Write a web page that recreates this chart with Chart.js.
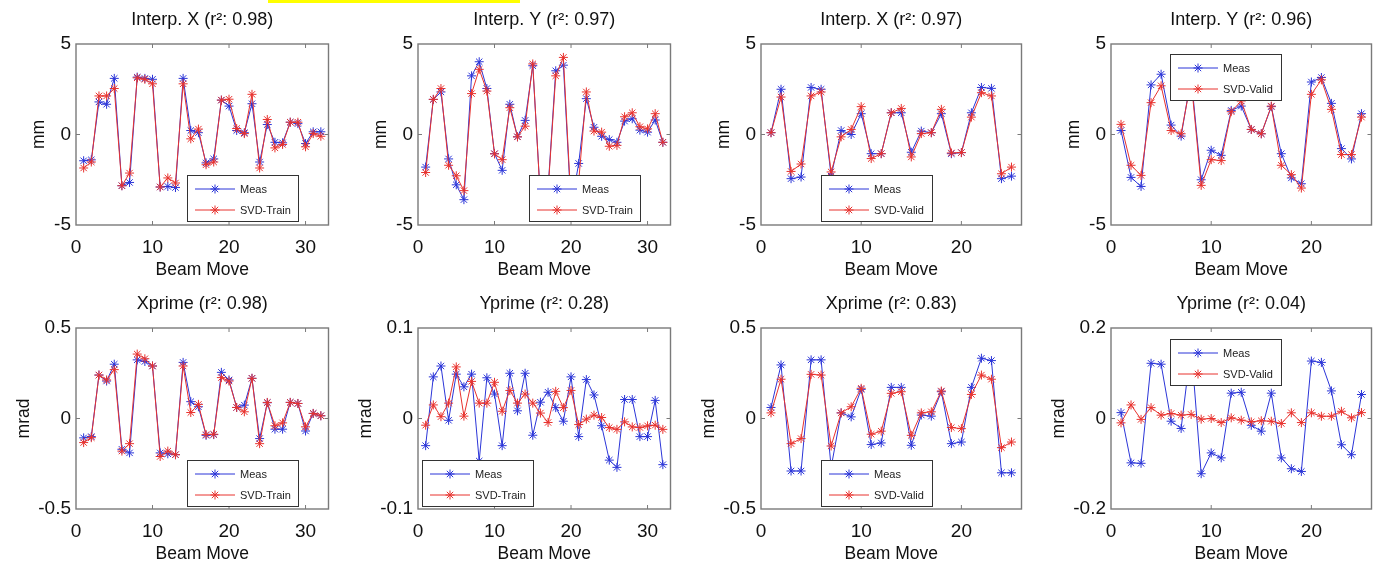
<!DOCTYPE html>
<html>
<head>
<meta charset="utf-8">
<title>Beam Move fits</title>
<script src="https://cdn.jsdelivr.net/npm/chart.js@4.4.0/dist/chart.umd.min.js"></script>
<style>
    body {
        margin: 0;
        width: 1378px;
        height: 564px;
        overflow: hidden;
        position: relative;
        background: #ffffff;
        font-family: 'Liberation Sans', Arial, sans-serif;
    }
    .marker-bar {
        position: absolute;
        left: 268px;
        top: 0;
        width: 252px;
        height: 3px;
        background: #ffff00;
    }
</style>
</head>
<body>
<div class="marker-bar"></div>
<script>
// Beam moves (x values)
const movesTrain = [1, 2, 3, 4, 5, 6, 7, 8, 9, 10, 11, 12, 13, 14, 15, 16, 17, 18, 19, 20, 21, 22, 23, 24, 25, 26, 27, 28, 29, 30, 31, 32];
const movesValid = [1, 2, 3, 4, 5, 6, 7, 8, 9, 10, 11, 12, 13, 14, 15, 16, 17, 18, 19, 20, 21, 22, 23, 24, 25];

// Interp. X, training set (mm)
const interpXTrainMeas = [-1.45, -1.4, 1.8, 1.67, 3.1, -2.83, -2.65, 3.17, 3.1, 3.05, -2.9, -2.87, -2.93, 3.1, 0.22, 0.1, -1.57, -1.35, 1.9, 1.57, 0.22, 0.1, 1.7, -1.52, 0.55, -0.43, -0.46, 0.68, 0.6, -0.5, 0.15, 0.15];
const interpXTrainSvd = [-1.85, -1.52, 2.13, 2.13, 2.54, -2.83, -2.13, 3.13, 3.05, 2.8, -2.9, -2.4, -2.68, 2.8, -0.24, 0.3, -1.67, -1.52, 1.9, 1.95, 0.33, 0.05, 2.22, -1.85, 0.83, -0.74, -0.55, 0.68, 0.68, -0.68, 0.05, -0.1];

// Interp. Y, training set (mm)
const interpYTrainMeas = [-1.8, 1.94, 2.35, -1.35, -2.78, -3.6, 3.24, 4.02, 2.54, -1.06, -1.98, 1.67, -0.13, 0.78, 3.8, -3.5, -3.0, 3.52, 3.83, -4.0, -1.6, 1.98, 0.4, -0.1, -0.28, -0.43, 0.74, 0.87, 0.24, 0.13, 0.8, -0.43];
const interpYTrainSvd = [-2.1, 1.94, 2.54, -1.7, -2.28, -3.1, 2.26, 3.6, 2.4, -1.07, -1.39, 1.48, -0.13, 0.46, 3.9, -3.6, -3.1, 3.24, 4.26, -3.8, -2.6, 2.35, 0.19, 0.13, -0.65, -0.6, 0.98, 1.2, 0.43, 0.31, 1.15, -0.43];

// Interp. X, validation set (mm)
const interpXValidMeas = [0.1, 2.5, -2.44, -2.35, 2.6, 2.5, -2.3, 0.22, 0.0, 1.15, -1.06, -1.06, 1.2, 1.2, -0.98, 0.19, 0.1, 1.15, -1.06, -1.0, 1.2, 2.6, 2.55, -2.44, -2.3];
const interpXValidSvd = [0.1, 2.07, -2.04, -1.63, 2.13, 2.35, -2.07, -0.13, 0.28, 1.54, -1.33, -1.06, 1.2, 1.44, -1.24, 0.05, 0.1, 1.39, -1.02, -1.0, 0.96, 2.31, 2.13, -2.17, -1.8];

// Interp. Y, validation set (mm)
const interpYValidMeas = [0.22, -2.37, -2.87, 2.74, 3.33, 0.52, -0.09, 3.2, -2.5, -0.87, -1.15, 1.33, 1.57, 0.28, 0.04, 1.54, -1.06, -2.4, -2.72, 2.9, 3.15, 1.72, -0.78, -1.35, 1.15];
const interpYValidSvd = [0.56, -1.7, -2.26, 1.76, 2.69, 0.22, 0.04, 3.0, -2.81, -1.39, -1.44, 1.26, 1.85, 0.28, 0.04, 1.57, -1.7, -2.22, -2.96, 2.22, 3.02, 1.39, -1.11, -1.11, 0.96];

// Xprime, training set (mrad)
const xprimeTrainMeas = [-0.107, -0.1, 0.24, 0.207, 0.3, -0.17, -0.19, 0.324, 0.315, 0.29, -0.19, -0.195, -0.2, 0.31, 0.093, 0.065, -0.093, -0.089, 0.255, 0.213, 0.061, 0.074, 0.222, -0.111, 0.087, -0.059, -0.059, 0.089, 0.083, -0.069, 0.028, 0.015];
const xprimeTrainSvd = [-0.133, -0.106, 0.24, 0.213, 0.27, -0.18, -0.139, 0.356, 0.33, 0.29, -0.21, -0.18, -0.2, 0.29, 0.033, 0.078, -0.089, -0.087, 0.226, 0.207, 0.061, 0.037, 0.222, -0.139, 0.089, -0.04, -0.024, 0.089, 0.083, -0.046, 0.028, 0.015];

// Yprime, training set (mrad)
const yprimeTrainMeas = [-0.03, 0.046, 0.058, -0.002, 0.049, 0.035, 0.049, -0.047, 0.045, 0.027, -0.03, 0.05, 0.0085, 0.05, -0.0185, 0.018, 0.029, 0.012, -0.003, 0.046, -0.02, 0.043, 0.026, -0.008, -0.046, -0.054, 0.021, 0.021, -0.02, -0.02, 0.02, -0.051];
const yprimeTrainSvd = [-0.0074, 0.015, 0.002, 0.017, 0.057, 0.0026, 0.041, 0.017, 0.017, 0.04, 0.008, 0.031, 0.017, 0.027, 0.017, 0.006, -0.0044, 0.03, 0.012, 0.031, -0.0067, -0.0007, 0.0037, 0.0011, -0.01, -0.012, -0.0037, -0.0093, -0.01, -0.0081, -0.0074, -0.012];

// Xprime, validation set (mrad)
const xprimeValidMeas = [0.061, 0.296, -0.29, -0.29, 0.324, 0.324, -0.27, 0.031, 0.009, 0.161, -0.144, -0.135, 0.172, 0.172, -0.148, 0.019, 0.013, 0.148, -0.139, -0.13, 0.172, 0.333, 0.32, -0.3, -0.3];
const xprimeValidSvd = [0.031, 0.217, -0.139, -0.111, 0.244, 0.24, -0.152, 0.031, 0.065, 0.167, -0.087, -0.07, 0.139, 0.148, -0.093, 0.031, 0.037, 0.152, -0.05, -0.056, 0.133, 0.24, 0.217, -0.161, -0.13];

// Yprime, validation set (mrad)
const yprimeValidMeas = [0.013, -0.098, -0.099, 0.122, 0.12, -0.006, -0.022, 0.16, -0.122, -0.076, -0.087, 0.056, 0.058, -0.015, -0.028, 0.056, -0.087, -0.111, -0.117, 0.127, 0.124, 0.061, -0.058, -0.08, 0.053];
const yprimeValidSvd = [-0.0096, 0.03, -0.002, 0.024, 0.0074, 0.011, 0.0074, 0.009, -0.0015, 0, -0.009, 0.0015, -0.0037, -0.0074, -0.005, -0.006, -0.011, 0.0126, -0.009, 0.0126, 0.005, 0.005, 0.016, 0.0015, 0.013];

// Titles, labels, axis ranges
const titles = ['Interp. X (r²: 0.98)', 'Interp. Y (r²: 0.97)', 'Interp. X (r²: 0.97)', 'Interp. Y (r²: 0.96)',
    'Xprime (r²: 0.98)', 'Yprime (r²: 0.28)', 'Xprime (r²: 0.83)', 'Yprime (r²: 0.04)'];
const yUnits = ['mm', 'mm', 'mm', 'mm', 'mrad', 'mrad', 'mrad', 'mrad'];
const yLimits = [5, 5, 5, 5, 0.5, 0.1, 0.5, 0.2];
const xMax = [33, 33, 26, 26, 33, 33, 26, 26];
const xTicks = [0, 10, 20, 30];

// Layout (pixels)
const plotLeft = [76, 418, 761, 1111];
const plotRight = [330, 672, 1023, 1373];
const plotTop = [44, 328];
const plotBottom = [225, 509];
const legendX = [111, 111, 60, 59, 111, 4, 60, 59];
const legendY = [131, 131, 131, 10, 132, 132, 132, 11];

const FONT = "'Liberation Sans', Arial, sans-serif";
const BLUE = '#2b35d8';
const RED = '#e8322e';
const FRAME = '#7a7a7a';

// Box around the axes, inward ticks, and the MATLAB-like legend
const axesBox = {
    id: 'axesBox',
    afterDraw(chart, args, opts) {
        const { ctx, chartArea: a } = chart;
        ctx.save();
        ctx.strokeStyle = FRAME;
        ctx.lineWidth = 1.4;
        ctx.strokeRect(a.left, a.top, a.right - a.left, a.bottom - a.top);

        ctx.lineWidth = 1;
        ctx.beginPath();
        chart.scales.x.ticks.forEach((t) => {
            const px = chart.scales.x.getPixelForValue(t.value);
            if (px <= a.left + 1 || px >= a.right - 1) return;
            ctx.moveTo(px, a.bottom); ctx.lineTo(px, a.bottom - 4);
            ctx.moveTo(px, a.top); ctx.lineTo(px, a.top + 4);
        });
        chart.scales.y.ticks.forEach((t) => {
            const py = chart.scales.y.getPixelForValue(t.value);
            if (py <= a.top + 1 || py >= a.bottom - 1) return;
            ctx.moveTo(a.left, py); ctx.lineTo(a.left + 4, py);
            ctx.moveTo(a.right, py); ctx.lineTo(a.right - 4, py);
        });
        ctx.stroke();

        // legend
        const lx = a.left + opts.x;
        const ly = a.top + opts.y;
        const lw = 112;
        const lh = 47;
        ctx.fillStyle = '#ffffff';
        ctx.fillRect(lx, ly, lw, lh);
        ctx.strokeStyle = '#333333';
        ctx.lineWidth = 1;
        ctx.strokeRect(lx + 0.5, ly + 0.5, lw - 1, lh - 1);

        ctx.font = '11px ' + FONT;
        ctx.textBaseline = 'middle';
        ctx.textAlign = 'left';
        chart.data.datasets.forEach((ds, k) => {
            const ry = ly + 14 + k * 21;
            ctx.strokeStyle = ds.borderColor;
            ctx.lineWidth = 1;
            ctx.beginPath();
            ctx.moveTo(lx + 8, ry);
            ctx.lineTo(lx + 48, ry);
            ctx.stroke();
            Chart.helpers.drawPoint(ctx, { pointStyle: 'star', radius: 4.5, rotation: 0, borderWidth: 1 }, lx + 28, ry);
            ctx.fillStyle = '#222222';
            ctx.fillText(ds.label, lx + 53, ry + 0.5);
        });
        ctx.restore();
    }
};

function makeSeries(label, moves, values, color, order) {
    return {
        label: label,
        data: moves.map((m, k) => ({ x: m, y: values[k] })),
        borderColor: color,
        backgroundColor: color,
        borderWidth: 1,
        pointStyle: 'star',
        pointRadius: 4.5,
        pointBorderWidth: 1,
        pointBorderColor: color,
        tension: 0,
        order: order
    };
}

function buildPanel(idx, moves, meas, svd, svdLabel) {
    const col = idx % 4;
    const row = Math.floor(idx / 4);
    const w = plotRight[col] - plotLeft[col] + 80;
    const h = plotBottom[row] - plotTop[row] + 44 + 57;

    const canvas = document.createElement('canvas');
    canvas.width = w;
    canvas.height = h;
    canvas.style.cssText = `position:absolute;left:${plotLeft[col] - 76}px;top:${plotTop[row] - 44}px;width:${w}px;height:${h}px`;
    document.body.appendChild(canvas);

    const lim = yLimits[idx];
    new Chart(canvas.getContext('2d'), {
        type: 'line',
        data: {
            datasets: [
                makeSeries('Meas', moves, meas, BLUE, 1),
                makeSeries(svdLabel, moves, svd, RED, 0)
            ]
        },
        plugins: [axesBox],
        options: {
            responsive: false,
            animation: false,
            events: [],
            layout: { padding: { left: 0, right: 4, top: 0, bottom: 0 } },
            plugins: {
                legend: { display: false },
                tooltip: { enabled: false },
                title: {
                    display: true,
                    text: titles[idx],
                    fullSize: false,
                    color: '#111111',
                    font: { family: FONT, size: 18, weight: 'normal' },
                    padding: { top: 9.5, bottom: 12.9 }
                },
                axesBox: { x: legendX[idx], y: legendY[idx] }
            },
            scales: {
                x: {
                    type: 'linear',
                    min: 0,
                    max: xMax[idx],
                    afterBuildTicks: (scale) => {
                        scale.ticks = xTicks.filter((v) => v <= xMax[idx]).map((v) => ({ value: v }));
                    },
                    afterFit: (scale) => { scale.height = 57; },
                    grid: { display: false, drawTicks: false },
                    border: { display: false },
                    ticks: {
                        autoSkip: false,
                        maxRotation: 0,
                        padding: 11,
                        color: '#111111',
                        font: { family: FONT, size: 19 }
                    },
                    title: {
                        display: true,
                        text: 'Beam Move',
                        color: '#111111',
                        font: { family: FONT, size: 17.5 },
                        padding: { top: 0, bottom: 1.5 }
                    }
                },
                y: {
                    min: -lim,
                    max: lim,
                    afterBuildTicks: (scale) => {
                        scale.ticks = [-lim, 0, lim].map((v) => ({ value: v }));
                    },
                    afterFit: (scale) => { scale.width = 76; },
                    grid: { display: false, drawTicks: false },
                    border: { display: false },
                    ticks: {
                        padding: 5,
                        color: '#111111',
                        font: { family: FONT, size: 19 },
                        callback: (v) => String(Math.round(v * 100) / 100)
                    },
                    title: {
                        display: true,
                        text: yUnits[idx],
                        color: '#111111',
                        font: { family: FONT, size: 17.5 },
                        padding: { top: row === 0 ? 28.5 : 13.5, bottom: 0 }
                    }
                }
            }
        }
    });
}

buildPanel(0, movesTrain, interpXTrainMeas, interpXTrainSvd, 'SVD-Train');
buildPanel(1, movesTrain, interpYTrainMeas, interpYTrainSvd, 'SVD-Train');
buildPanel(2, movesValid, interpXValidMeas, interpXValidSvd, 'SVD-Valid');
buildPanel(3, movesValid, interpYValidMeas, interpYValidSvd, 'SVD-Valid');
buildPanel(4, movesTrain, xprimeTrainMeas, xprimeTrainSvd, 'SVD-Train');
buildPanel(5, movesTrain, yprimeTrainMeas, yprimeTrainSvd, 'SVD-Train');
buildPanel(6, movesValid, xprimeValidMeas, xprimeValidSvd, 'SVD-Valid');
buildPanel(7, movesValid, yprimeValidMeas, yprimeValidSvd, 'SVD-Valid');
</script>
</body>
</html>
